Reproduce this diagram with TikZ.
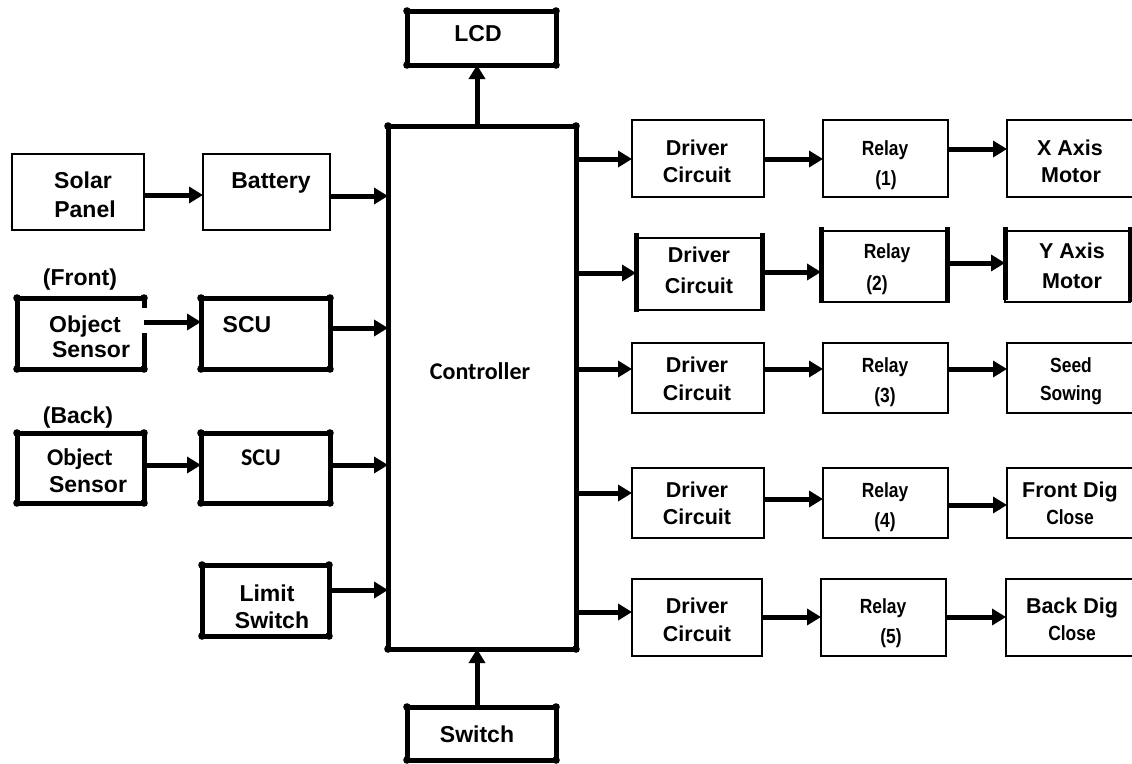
\documentclass[tikz,border=0pt]{standalone}
\usepackage{fontspec}
\setmainfont{Liberation Sans}
\newfontfamily\narrowf[FakeStretch=0.85]{Liberation Sans}
\newfontfamily\carl{Carlito}
\usetikzlibrary{arrows.meta}
\tikzset{
  tbox/.style={draw, line width=5pt, rectangle, inner sep=0, outer sep=0},
  nbox/.style={draw, line width=1.5pt, rectangle, inner sep=0, outer sep=0},
  bare/.style={rectangle, inner sep=0, outer sep=0},
  side/.style={line width=5pt},
  arr/.style={line width=5pt, -{Triangle[length=14pt,width=16pt]}},
  txt/.style={anchor=base, inner sep=0, font=\bfseries\fontsize{23}{27}\selectfont},
  dtxt/.style={anchor=base, inner sep=0, font=\bfseries\fontsize{21.5}{25}\selectfont},
  ntxt/.style={anchor=base, inner sep=0, font=\narrowf\bfseries\fontsize{20.5}{24}\selectfont},
  ctxt/.style={anchor=base, inner sep=0, font=\carl\bfseries\fontsize{24}{28}\selectfont},
}
\begin{document}
\begin{tikzpicture}[x=1pt,y=-1pt]
\useasboundingbox (0,0) rectangle (1132,763);
\clip (0,0) rectangle (1132,763);
\fill[white] (0,0) rectangle (1132,763);

% thick boxes
\node[tbox, minimum width=149, minimum height=54] (lcd) at (481.5,38) {};
\node[tbox, minimum width=188, minimum height=523] (ctrl) at (482,387.5) {};
\node[tbox, minimum width=149, minimum height=53] (sw) at (481.5,733.5) {};
\node[bare, minimum width=127, minimum height=71] (objf) at (80.5,333.5) {};
\node[tbox, minimum width=129, minimum height=71] (scuf) at (265.5,333.5) {};
\node[tbox, minimum width=127, minimum height=70] (objb) at (80.5,468) {};
\node[tbox, minimum width=129, minimum height=70] (scub) at (265.5,468) {};
\node[tbox, minimum width=127, minimum height=71] (lim) at (265.5,600.5) {};
\draw[side] (objf.north east) -- (objf.north west) -- (objf.south west) -- (objf.south east) -- ++(0,-36);
\draw[side] (objf.north east) -- ++(0,10);

% thin boxes
\node[nbox, minimum width=132, minimum height=76] (solar) at (78,192) {};
\node[nbox, minimum width=127, minimum height=76] (bat) at (266.5,192) {};

\node[nbox, minimum width=132, minimum height=77] (dr1) at (698,158.5) {};
\node[nbox, minimum width=126, minimum height=72] (dr2) at (699,274) {};
\node[nbox, minimum width=132, minimum height=70] (dr3) at (698,378) {};
\node[nbox, minimum width=132, minimum height=70] (dr4) at (698,503) {};
\node[nbox, minimum width=130, minimum height=77] (dr5) at (697,617.5) {};

\node[nbox, minimum width=125, minimum height=77] (re1) at (885.5,158.5) {};
\node[nbox, minimum width=126, minimum height=71] (re2) at (884,266.5) {};
\node[nbox, minimum width=125, minimum height=70] (re3) at (885.5,378) {};
\node[nbox, minimum width=125, minimum height=70] (re4) at (885.5,503) {};
\node[nbox, minimum width=125, minimum height=77] (re5) at (883.5,617.5) {};

\node[nbox, minimum width=133, minimum height=77] (out1) at (1073.5,158.5) {};
\node[nbox, minimum width=125, minimum height=71] (out2) at (1067.5,266.5) {};
\node[nbox, minimum width=133, minimum height=70] (out3) at (1073.5,378) {};
\node[nbox, minimum width=133, minimum height=70] (out4) at (1073.5,503) {};
\node[nbox, minimum width=134, minimum height=77] (out5) at (1073,617.5) {};

% thick sides of the second row
\draw[side] (dr2.west |- 0,233) -- (dr2.west |- 0,312);
\draw[side] (dr2.east |- 0,233) -- (dr2.east |- 0,311);
\draw[side] (re2.west |- 0,227) -- (re2.west |- 0,303);
\draw[side] (re2.east |- 0,227) -- (re2.east |- 0,303);
\draw[side] (out2.west |- 0,227) -- (out2.west |- 0,300);
\draw[side] (out2.east |- 0,227) -- (out2.east |- 0,302);

% corner dots
\foreach \n in {lcd,ctrl,sw,objf,scuf,objb,scub,lim}
  \foreach \a in {north west,north east,south west,south east}
    \fill (\n.\a) circle (3.8);

% texts
\node[txt] (tlcd) at (478,41) {LCD};
\node[ctxt] (tctrl) at (480,379) {Controller};
\node[txt] (tsw) at (477,742) {Switch};
\node[txt] (tsol1) at (83,188) {Solar};
\node[txt] (tsol2) at (85,217) {Panel};
\node[txt] (tbat) at (271,188) {Battery};
\node[txt] (tfr) at (80,285) {(Front)};
\node[txt] (tof1) at (85,332) {Object};
\node[txt] (tof2) at (91,357) {Sensor};
\node[txt] (tscuf) at (247,332) {SCU};
\node[txt] (tbk) at (78,423) {(Back)};
\node[ctxt] (tob1) at (80,465) {Object};
\node[txt] (tob2) at (88,492) {Sensor};
\node[ctxt] (tscub) at (261,465) {SCU};
\node[txt] (tlim1) at (267,601) {Limit};
\node[txt] (tlim2) at (272,628) {Switch};

\node[dtxt] (td1a) at (697,155) {Driver};
\node[dtxt] (td1b) at (697,182) {Circuit};
\node[dtxt] (td2a) at (699,262) {Driver};
\node[dtxt] (td2b) at (699,293) {Circuit};
\node[dtxt] (td3a) at (697,372) {Driver};
\node[dtxt] (td3b) at (697,400) {Circuit};
\node[dtxt] (td4a) at (697,497) {Driver};
\node[dtxt] (td4b) at (697,524) {Circuit};
\node[dtxt] (td5a) at (697,613) {Driver};
\node[dtxt] (td5b) at (697,641) {Circuit};

\node[ntxt] (tr1a) at (885,155) {Relay};
\node[ntxt] (tr1b) at (886,185) {(1)};
\node[ntxt] (tr2a) at (887,258) {Relay};
\node[ntxt] (tr2b) at (877,290) {(2)};
\node[ntxt] (tr3a) at (885,372) {Relay};
\node[ntxt] (tr3b) at (885,402) {(3)};
\node[ntxt] (tr4a) at (885,497) {Relay};
\node[ntxt] (tr4b) at (885,527) {(4)};
\node[ntxt] (tr5a) at (883,613) {Relay};
\node[ntxt] (tr5b) at (891,643) {(5)};

\node[dtxt] (to1a) at (1070,155) {X Axis};
\node[dtxt] (to1b) at (1071,182) {Motor};
\node[dtxt] (to2a) at (1072,258) {Y Axis};
\node[dtxt] (to2b) at (1072,288) {Motor};
\node[ntxt] (to3a) at (1071,372) {Seed};
\node[ntxt] (to3b) at (1071,400) {Sowing};
\node[dtxt] (to4a) at (1070,497) {Front Dig};
\node[ntxt] (to4b) at (1070,524) {Close};
\node[dtxt] (to5a) at (1072,613) {Back Dig};
\node[ntxt] (to5b) at (1072,640) {Close};

% connectors
\draw[arr] (solar.east |- 0,195) -- (bat.west |- 0,195);
\draw[arr] (bat.east |- 0,196) -- (ctrl.west |- 0,196);
\draw[arr] (objf.east |- 0,322) -- (scuf.west |- 0,322);
\draw[arr] (scuf.east |- 0,328) -- (ctrl.west |- 0,328);
\draw[arr] (objb.east |- 0,465) -- (scub.west |- 0,465);
\draw[arr] (scub.east |- 0,465) -- (ctrl.west |- 0,465);
\draw[arr] (lim.east |- 0,590) -- (ctrl.west |- 0,590);
\draw[arr] (ctrl.north -| 477,0) -- (lcd.south -| 477,0);
\draw[arr] (sw.north -| 477,0) -- (ctrl.south -| 477,0);

\draw[arr] (ctrl.east |- 0,159) -- (dr1.west |- 0,159);
\draw[arr] (ctrl.east |- 0,273) -- (dr2.west |- 0,273);
\draw[arr] (ctrl.east |- 0,369) -- (dr3.west |- 0,369);
\draw[arr] (ctrl.east |- 0,493) -- (dr4.west |- 0,493);
\draw[arr] (ctrl.east |- 0,612) -- (dr5.west |- 0,612);

\draw[arr] (dr1.east |- 0,159) -- (re1.west |- 0,159);
\draw[arr] (dr2.east |- 0,272) -- (re2.west |- 0,272);
\draw[arr] (dr3.east |- 0,369) -- (re3.west |- 0,369);
\draw[arr] (dr4.east |- 0,499) -- (re4.west |- 0,499);
\draw[arr] (dr5.east |- 0,617) -- (re5.west |- 0,617);

\draw[arr] (re1.east |- 0,149) -- (out1.west |- 0,149);
\draw[arr] (re2.east |- 0,263) -- (out2.west |- 0,263);
\draw[arr] (re3.east |- 0,369) -- (out3.west |- 0,369);
\draw[arr] (re4.east |- 0,505) -- (out4.west |- 0,505);
\draw[arr] (re5.east |- 0,617) -- (out5.west |- 0,617);
\end{tikzpicture}
\end{document}
